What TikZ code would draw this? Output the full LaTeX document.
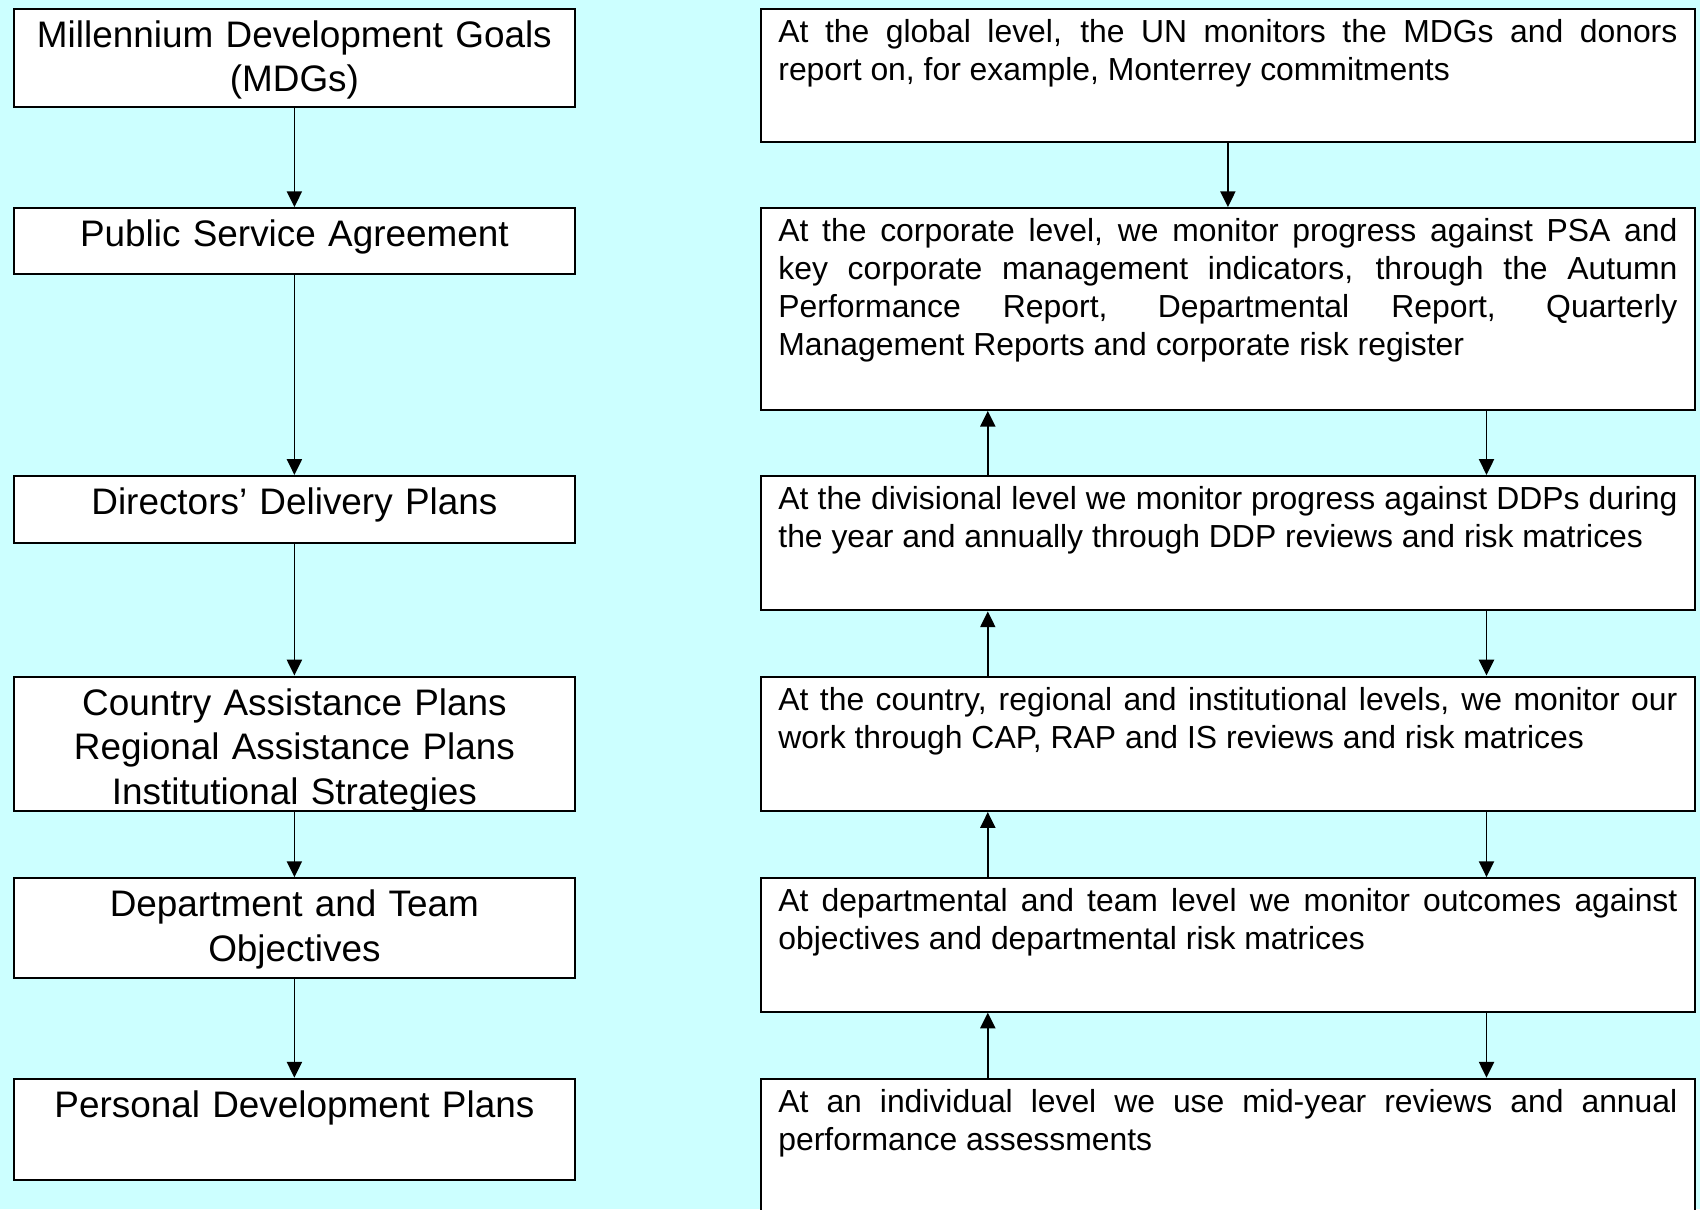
\documentclass[tikz,border=0pt]{standalone}
\usepackage{fontspec}
\setmainfont{Liberation Sans}
\usetikzlibrary{arrows.meta}
\definecolor{bgcyan}{HTML}{CCFFFF}
\tikzset{
    planbox/.style={draw=black,fill=white,line width=0.6pt,anchor=north,
        minimum width=5.605cm,text width=5.3cm,align=center,inner xsep=0pt,inner ysep=0pt,
        font=\fontsize{10.5}{12.65}\selectfont,text height=0.387cm},
    monbox/.style={draw=black,fill=white,line width=0.6pt,anchor=north,
        minimum width=9.335cm,text width=8.99cm,align=justify,inner xsep=0pt,inner ysep=0pt,
        font=\fontsize{9.07}{10.8}\selectfont,text height=0.337cm},
    arr/.style={-{Triangle[length=4.5pt,width=4.3pt]},line width=0.5pt}
}

\begin{document}
\begin{tikzpicture}
        \useasboundingbox (0,0) rectangle (17,-12.09);
        \fill[bgcyan] (0,0) rectangle (17,-12.09);

        \node[planbox,text depth=0.600cm] (mdg) at (2.944,-0.076) {Millennium Development Goals\\(MDGs)};
        \node[planbox,text depth=0.274cm] (psa) at (2.944,-2.071) {Public Service Agreement};
        \node[planbox,text depth=0.285cm] (ddp) at (2.944,-4.749) {Directors’ Delivery Plans};
        \node[planbox,text depth=0.957cm] (cap) at (2.944,-6.755) {Country Assistance Plans\\Regional Assistance Plans\\Institutional Strategies};
        \node[planbox,text depth=0.611cm] (dto) at (2.944,-8.771) {Department and Team\\Objectives};
        \node[planbox,text depth=0.621cm] (pdp) at (2.944,-10.777) {Personal Development Plans};

        \node[monbox,text depth=0.996cm] (global) at (12.279,-0.076) {At the global level, the UN monitors the MDGs and donors\linebreak report on, for example, Monterrey commitments};
        \node[monbox,text depth=1.679cm] (corporate) at (12.279,-2.071) {At the corporate level, we monitor progress against PSA and\linebreak key corporate management indicators, through the Autumn\linebreak Performance Report, Departmental Report, Quarterly\linebreak Management Reports and corporate risk register};
        \node[monbox,text depth=1.007cm] (divisional) at (12.279,-4.749) {At the divisional level we monitor progress against DDPs during\linebreak the year and annually through DDP reviews and risk matrices};
        \node[monbox,text depth=1.007cm] (country) at (12.279,-6.755) {At the country, regional and institutional levels, we monitor our\linebreak work through CAP, RAP and IS reviews and risk matrices};
        \node[monbox,text depth=0.997cm] (team) at (12.279,-8.771) {At departmental and team level we monitor outcomes against\linebreak objectives and departmental risk matrices};
        \node[monbox,text depth=1.650cm] (individual) at (12.279,-10.777) {At an individual level we use mid-year reviews and annual\linebreak performance assessments};

        \draw[arr] (mdg.south) -- (psa.north);
        \draw[arr] (psa.south) -- (ddp.north);
        \draw[arr] (ddp.south) -- (cap.north);
        \draw[arr] (cap.south) -- (dto.north);
        \draw[arr] (dto.south) -- (pdp.north);

        \draw[arr] (global.south) -- (corporate.north);
        \draw[arr] ([xshift=2.277cm]divisional.north west) -- ([xshift=2.277cm]corporate.south west);
        \draw[arr] ([xshift=7.264cm]corporate.south west) -- ([xshift=7.264cm]divisional.north west);
        \draw[arr] ([xshift=2.277cm]country.north west) -- ([xshift=2.277cm]divisional.south west);
        \draw[arr] ([xshift=7.264cm]divisional.south west) -- ([xshift=7.264cm]country.north west);
        \draw[arr] ([xshift=2.277cm]team.north west) -- ([xshift=2.277cm]country.south west);
        \draw[arr] ([xshift=7.264cm]country.south west) -- ([xshift=7.264cm]team.north west);
        \draw[arr] ([xshift=2.277cm]individual.north west) -- ([xshift=2.277cm]team.south west);
        \draw[arr] ([xshift=7.264cm]team.south west) -- ([xshift=7.264cm]individual.north west);
    \end{tikzpicture}
\end{document}
